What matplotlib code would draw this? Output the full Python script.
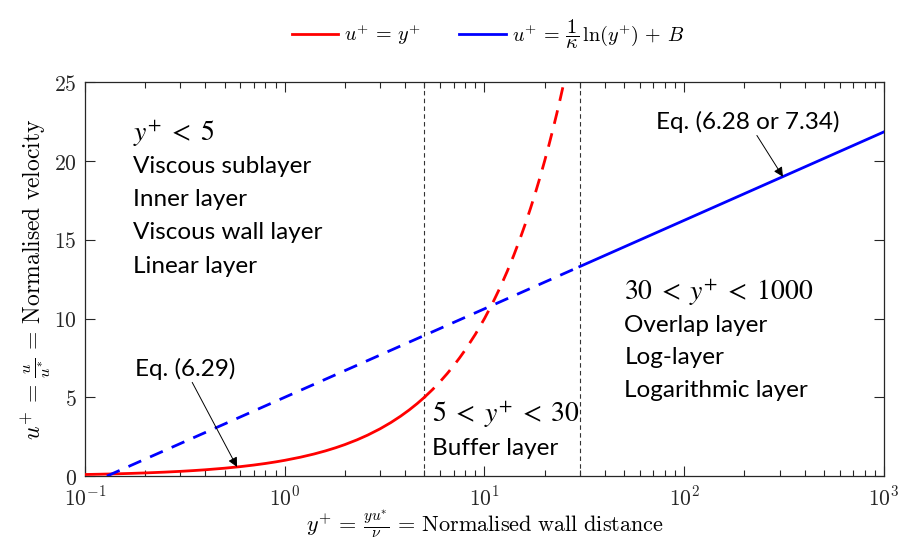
import matplotlib
matplotlib.use("Agg")
import matplotlib.pyplot as plt
from matplotlib.ticker import LogLocator, NullFormatter, FixedLocator

plt.rcParams['mathtext.fontset'] = 'cm'
plt.rcParams['font.family'] = 'serif'
plt.rcParams['font.serif'] = ['DejaVu Serif']

# Linear (viscous sublayer) law u+ = y+
yplus_lin_solid = [0.1, 0.12, 0.14, 0.17, 0.2, 0.25, 0.3, 0.35, 0.4, 0.5, 0.6, 0.7, 0.8, 0.9, 1.0,
                   1.2, 1.4, 1.6, 1.8, 2.0, 2.3, 2.6, 3.0, 3.4, 3.8, 4.2, 4.6, 5.0]
u_lin_solid = [0.1, 0.12, 0.14, 0.17, 0.2, 0.25, 0.3, 0.35, 0.4, 0.5, 0.6, 0.7, 0.8, 0.9, 1.0,
               1.2, 1.4, 1.6, 1.8, 2.0, 2.3, 2.6, 3.0, 3.4, 3.8, 4.2, 4.6, 5.0]
yplus_lin_dash = [5.0, 5.5, 6.0, 6.5, 7.0, 7.5, 8.0, 9.0, 10.0, 11.0, 12.0, 13.0, 14.0, 15.0,
                  16.0, 17.0, 18.0, 19.0, 20.0, 21.0, 22.0, 23.0, 24.0, 25.0]
u_lin_dash = [5.0, 5.5, 6.0, 6.5, 7.0, 7.5, 8.0, 9.0, 10.0, 11.0, 12.0, 13.0, 14.0, 15.0,
              16.0, 17.0, 18.0, 19.0, 20.0, 21.0, 22.0, 23.0, 24.0, 25.0]

# Log law u+ = ln(y+)/kappa + B
yplus_log_dash = [0.1287, 30.0]
u_log_dash = [0.0, 13.30]
yplus_log_solid = [30.0, 1000.0]
u_log_solid = [13.30, 21.85]

region_bounds = [5, 30]
x_ticks = [0.1, 1, 10, 100, 1000]
x_ticklabels = [r'$10^{-1}$', r'$10^{0}$', r'$10^{1}$', r'$10^{2}$', r'$10^{3}$']
y_ticks = [0, 5, 10, 15, 20, 25]

fig = plt.figure(figsize=(9.17, 5.41), dpi=100)
ax = fig.add_axes([0.0927, 0.120, 0.8713, 0.728])

red = '#ff0000'
blue = '#0000ff'
ax.plot(yplus_lin_solid, u_lin_solid, color=red, lw=2, label=r'$u^{+}\,=\,y^{+}$', zorder=3)
ax.plot(yplus_lin_dash, u_lin_dash, color=red, lw=2, ls=(0, (5, 3.5)), zorder=3)
ax.plot(yplus_log_solid, u_log_solid, color=blue, lw=2,
        label=r'$u^{+}\,=\,\dfrac{1}{\kappa}\,\ln(y^{+})\,+\,B$', zorder=3)
ax.plot(yplus_log_dash, u_log_dash, color=blue, lw=2, ls=(0, (5, 3.5)), zorder=3)

for xb in region_bounds:
    ax.axvline(xb, color='#333333', lw=0.8, ls=(0, (4, 3)), zorder=2)

ax.set_xscale('log')
ax.set_xlim(0.1, 1000)
ax.set_ylim(0, 25)
ax.xaxis.set_major_locator(FixedLocator(x_ticks))
ax.set_xticklabels(x_ticklabels)
ax.xaxis.set_minor_locator(LogLocator(base=10, subs=range(2, 10), numticks=20))
ax.xaxis.set_minor_formatter(NullFormatter())
ax.set_yticks(y_ticks)
ax.set_yticklabels([f'${v}$' for v in y_ticks])
ax.tick_params(which='both', direction='in', top=True, right=True, colors='#262626',
               labelsize=15.5, width=0.8)
ax.tick_params(which='major', length=7)
ax.tick_params(which='minor', length=4)
ax.tick_params(axis='x', pad=8)
ax.tick_params(axis='y', pad=6)
for s in ax.spines.values():
    s.set_color('#262626')
    s.set_linewidth(0.9)

ax.set_xlabel(r'$y^{+}\,=\,\frac{yu^{*}}{\nu}\,=\,\mathrm{Normalised\ wall\ distance}$',
              fontsize=16, labelpad=-2)
ax.set_ylabel(r'$u^{+}\,=\,\frac{u}{u^{*}}\,=\,\mathrm{Normalised\ velocity}$',
              fontsize=17, labelpad=1)

sans = 'Lato'
fs = 17.5
def region(x, ys, mathline, lines):
    ax.text(x, ys[0], mathline, transform=ax.transAxes, fontsize=fs + 2.5, va='center',
            ha='left', family=sans, math_fontfamily='stix')
    for y, t in zip(ys[1:], lines):
        ax.text(x, y, t, transform=ax.transAxes, fontsize=fs, va='center', ha='left',
                family=sans)

region(0.060, [0.871, 0.787, 0.703, 0.619, 0.533], r'$y^{+}\;<\;5$',
       ['Viscous sublayer', 'Inner layer', 'Viscous wall layer', 'Linear layer'])
region(0.434, [0.155, 0.069], r'$5\;<\;y^{+}\;<\;30$', ['Buffer layer'])
region(0.675, [0.467, 0.383, 0.302, 0.218], r'$30\;<\;y^{+}\;<\;1000$',
       ['Overlap layer', 'Log-layer', 'Logarithmic layer'])

arrow = dict(arrowstyle='-|>', color='black', lw=0.7, mutation_scale=14,
             shrinkA=0, shrinkB=0)
ax.annotate('Eq. (6.29)', xy=(0.577, 0.577), xytext=(0.125, 0.273),
            textcoords='axes fraction', ha='center', va='center', fontsize=fs,
            family=sans, arrowprops=arrow)
ax.annotate('Eq. (6.28 or 7.34)', xy=(312, 19.0), xytext=(0.83, 0.90),
            textcoords='axes fraction', ha='center', va='center', fontsize=fs,
            family=sans, arrowprops=arrow)

leg = fig.legend(loc='center', bbox_to_anchor=(0.532, 0.937), ncol=2, frameon=False,
                 fontsize=14.5, handlelength=2.3, columnspacing=1.9, handletextpad=0.3)

fig.savefig('out.png', dpi=100)
